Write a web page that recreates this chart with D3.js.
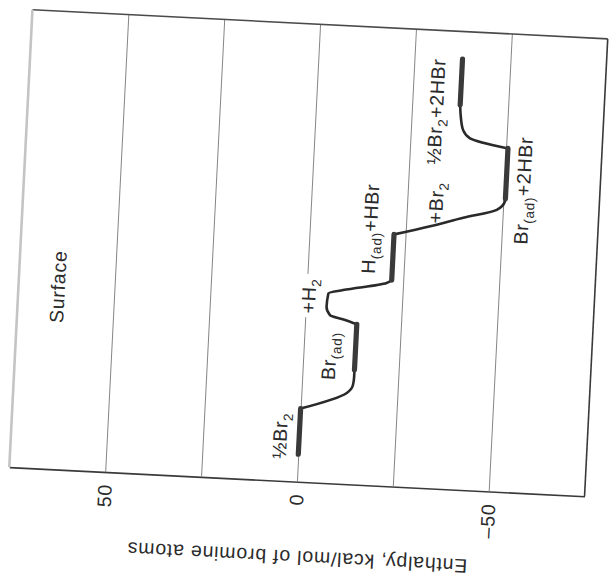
<!DOCTYPE html>
<html>
<head>
<meta charset="utf-8">
<script src="https://cdn.jsdelivr.net/npm/d3@7/dist/d3.min.js"></script>
<style>
  html, body { margin: 0; padding: 0; background: #fff; }
  svg { display: block; }
  text { font-family: "Liberation Sans", Arial, Helvetica, sans-serif; fill: #2b2b2b; }
</style>
</head>
<body>
<script>
// Enthalpy axis: gridlines every 25 kcal/mol, numbers on three of them
const gridValues = [50, 25, 0, -25, -50];
const tickValues = [50, 0, -50];
const tickLabels = ["50", "0", "\u201350"];
const axisTitle = "Enthalpy, kcal/mol of bromine atoms";

// Surface intermediates (enthalpy, extent along the reaction coordinate 0..100)
const levelNames    = ["\u00BDBr_2", "Br_{(ad)}", "H_{(ad)}+HBr", "Br_{(ad)}+2HBr", "\u00BDBr_2+2HBr"];
const levelEnthalpy = [0, -13.5, -22, -50.5, -37.5];
const levelStart    = [6, 25, 45, 64, 84];
const levelEnd      = [16, 35, 55, 75, 94];

// Connecting curves between successive levels
const transitionEnthalpy = [
  [0, -11.8, -13.3, -13.5, -13.5],
  [-13.5, -10.4, -6.4, -5.4, -5.7, -9.5, -20.7, -22],
  [-22, -31.3, -39.8, -48.4, -50.4, -50.5],
  [-50.5, -40.5, -38.6, -37.8, -37.5]
];
const transitionProgress = [
  [16, 19.9, 21.7, 23.5, 25],
  [35, 35.8, 36.7, 38.5, 41.4, 42.3, 44.3, 45],
  [55, 57.2, 59.4, 61.5, 63.4, 64],
  [75, 76.8, 78.5, 81.5, 84]
];

// Annotations placed in data units (baseline centre of each rotated label)
const labelTexts    = ["Surface", "\u00BDBr_2", "Br_{(ad)}", "+H_2", "H_{(ad)}+HBr", "+Br_2", "\u00BDBr_2+2HBr", "Br_{(ad)}+2HBr"];
const labelEnthalpy = [62.9, 3.2, -8.5, -2.4, -17.5, -34.3, -33.1, -56.8];
const labelProgress = [39.9, 9.9, 27.8, 40.7, 56, 62.4, 82.3, 66];

const W = 576, H = 458;
const FONT = "19.5px", SUB = "13.5px", SPACING = "0.8px";

const svg = d3.select("body").append("svg").attr("width", 611).attr("height", 576);
const g = svg.append("g")
  .attr("transform", `translate(308.5,253) rotate(2.9) translate(${-W / 2},${-H / 2})`);

const x = d3.scaleLinear().domain([75, -75]).range([0, W]);
const y = d3.scaleLinear().domain([0, 100]).range([H, 0]);

// Gridlines + bottom axis with rotated numbers
const axis = d3.axisBottom(x)
  .tickValues(gridValues)
  .tickSizeInner(-H)
  .tickSizeOuter(0)
  .tickFormat(d => { const i = tickValues.indexOf(d); return i >= 0 ? tickLabels[i] : ""; });

const ax = g.append("g").attr("transform", `translate(0,${H})`).call(axis);
ax.select(".domain").attr("stroke", "#3a3a3a").attr("stroke-width", 1.6);
ax.selectAll(".tick line").attr("stroke", "#858585").attr("stroke-width", 1);
ax.selectAll(".tick text")
  .attr("transform", "rotate(-90)")
  .attr("x", -12).attr("y", 0).attr("dy", "0.35em")
  .attr("text-anchor", "end")
  .style("font-size", FONT)
  .style("letter-spacing", SPACING)
  .attr("fill", "#2b2b2b");

// Frame
g.append("line").attr("x1", 0).attr("y1", 0).attr("x2", W).attr("y2", 0)
  .attr("stroke", "#4a4a4a").attr("stroke-width", 1.6);
g.append("line").attr("x1", W).attr("y1", 0).attr("x2", W).attr("y2", H)
  .attr("stroke", "#3a3a3a").attr("stroke-width", 1.6);
g.append("line").attr("x1", 0).attr("y1", 0).attr("x2", 0).attr("y2", H)
  .attr("stroke", "#c4c4c4").attr("stroke-width", 2.6);

// Axis title (upside down below the axis)
g.append("text")
  .attr("transform", `translate(${W / 2 + 4},${H + 69}) rotate(180)`)
  .attr("text-anchor", "middle")
  .style("font-size", FONT)
  .style("letter-spacing", SPACING)
  .text(axisTitle);

// Rich text helper: "_2" or "_{(ad)}" become subscripts
function richText(sel, str) {
  const re = /_\{([^}]*)\}|_(.)/g;
  let last = 0, m;
  const parts = [];
  while ((m = re.exec(str)) !== null) {
    if (m.index > last) parts.push([str.slice(last, m.index), false]);
    parts.push([m[1] !== undefined ? m[1] : m[2], true]);
    last = re.lastIndex;
  }
  if (last < str.length) parts.push([str.slice(last), false]);
  let shifted = false;
  parts.forEach(([t, sub]) => {
    const ts = sel.append("tspan").text(t);
    if (sub) { ts.style("font-size", SUB).attr("dy", shifted ? 0 : 5); shifted = true; }
    else { ts.attr("dy", shifted ? -5 : 0); shifted = false; }
  });
}

// Labels
const labelG = g.append("g");
labelTexts.forEach((t, i) => {
  const lg = labelG.append("g")
    .attr("transform", `translate(${x(labelEnthalpy[i])},${y(labelProgress[i])}) rotate(-90)`);
  const bg = lg.append("rect").attr("fill", "#fff");
  const txt = lg.append("text")
    .attr("text-anchor", "middle")
    .style("font-size", FONT)
    .style("letter-spacing", SPACING);
  richText(txt, t);
  const b = txt.node().getBBox();
  bg.attr("x", b.x - 4).attr("y", b.y + 2).attr("width", b.width + 8).attr("height", b.height - 3);
});

// Connecting curves
const line = d3.line()
  .x(d => x(d[0])).y(d => y(d[1]))
  .curve(d3.curveMonotoneY);

g.append("g").selectAll("path")
  .data(transitionEnthalpy.map((es, i) => es.map((e, j) => [e, transitionProgress[i][j]])))
  .join("path")
  .attr("d", line)
  .attr("fill", "none")
  .attr("stroke", "#2a2a2a")
  .attr("stroke-width", 2.6)
  .attr("stroke-linejoin", "round")
  .attr("stroke-linecap", "round");

// Levels
g.append("g").selectAll("line")
  .data(levelEnthalpy.map((e, i) => ({ e, s: levelStart[i], t: levelEnd[i] })))
  .join("line")
  .attr("x1", d => x(d.e)).attr("x2", d => x(d.e))
  .attr("y1", d => y(d.s)).attr("y2", d => y(d.t))
  .attr("stroke", "#3a3a3a")
  .attr("stroke-width", 5.2)
  .attr("stroke-linecap", "round");
</script>
</body>
</html>
